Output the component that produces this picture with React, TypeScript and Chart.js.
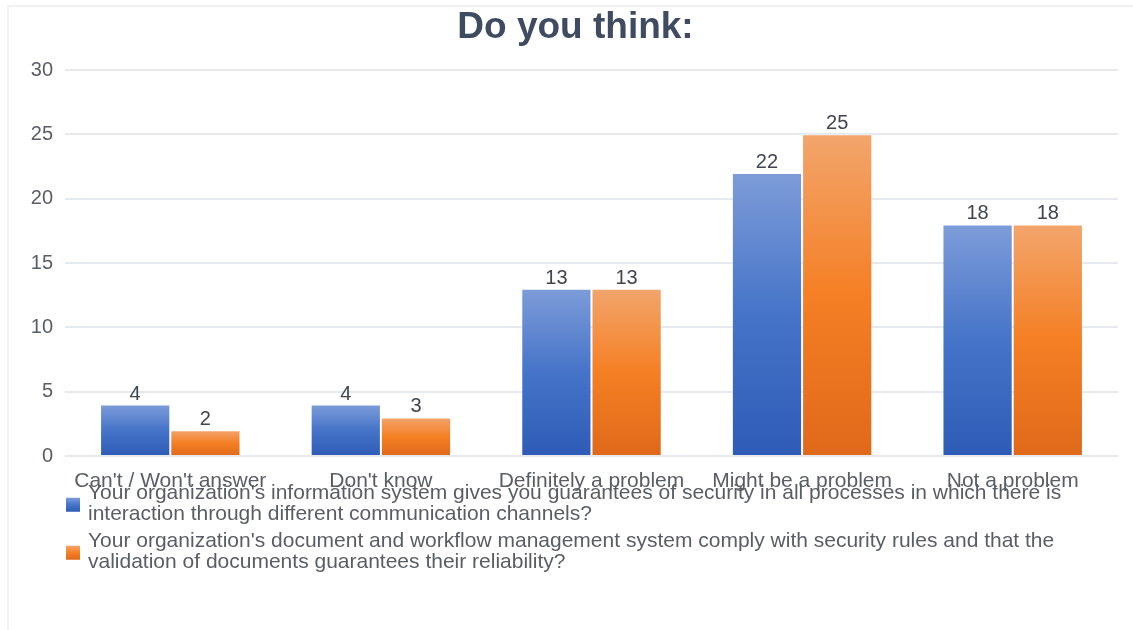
import React, { useEffect, useRef } from "react";
import { Chart, registerables } from "chart.js";

Chart.register(...registerables);

const TITLE = "Do you think:";
const categories = [
  "Can't / Won't answer",
  "Don't know",
  "Definitely a problem",
  "Might be a problem",
  "Not a problem",
];
const seriesInfoSystem = [4, 4, 13, 22, 18];
const seriesDocWorkflow = [2, 3, 13, 25, 18];
const legendInfoSystem = [
  "Your organization's information system gives you guarantees of security in all processes in which there is",
  "interaction through different communication channels?",
];
const legendDocWorkflow = [
  "Your organization's document and workflow management system comply with security rules and that the",
  "validation of documents guarantees their reliability?",
];
const yTicks = { min: 0, max: 30, step: 5 };

const FONT = "'Liberation Sans', Arial, sans-serif";
const BLUE_STOPS = ["#7d9cd8", "#4674c9", "#2e5bb6"];
const ORANGE_STOPS = ["#f2a56c", "#f57f24", "#df691a"];
const TEXT = "#595d66";

function gradientFor(stops: string[]) {
  return (ctx: any) => {
    const chart = ctx.chart;
    const y = chart.scales && chart.scales.y;
    if (!chart.chartArea || !y || ctx.raw == null) return stops[1];
    const top = y.getPixelForValue(ctx.raw);
    const base = y.getPixelForValue(0);
    if (!isFinite(top) || !isFinite(base) || base - top < 1) return stops[1];
    const g = chart.ctx.createLinearGradient(0, top, 0, base);
    g.addColorStop(0, stops[0]);
    g.addColorStop(0.5, stops[1]);
    g.addColorStop(1, stops[2]);
    return g;
  };
}

const titlePlugin = {
  id: "customTitle",
  afterDraw(chart: any) {
    const { ctx } = chart;
    ctx.save();
    ctx.font = `bold 37px ${FONT}`;
    ctx.fillStyle = "#3e4b60";
    ctx.textAlign = "center";
    ctx.textBaseline = "alphabetic";
    ctx.fillText(TITLE, 575.5, 38);
    ctx.restore();
  },
};

const valueLabelPlugin = {
  id: "valueLabels",
  afterDatasetsDraw(chart: any) {
    const { ctx } = chart;
    ctx.save();
    ctx.font = `20px ${FONT}`;
    ctx.fillStyle = "#404550";
    ctx.textAlign = "center";
    ctx.textBaseline = "alphabetic";
    chart.data.datasets.forEach((ds: any, di: number) => {
      const meta = chart.getDatasetMeta(di);
      meta.data.forEach((el: any, i: number) => {
        ctx.fillText(String(ds.data[i]), el.x, el.y - 5);
      });
    });
    ctx.restore();
  },
};

const legendPlugin = {
  id: "wrappedLegend",
  afterDraw(chart: any) {
    const { ctx, chartArea } = chart;
    const lineH = 21.5;
    let y = chartArea.bottom + 37;
    const x = chartArea.left + 1;
    ctx.save();
    ctx.font = `21px ${FONT}`;
    ctx.textBaseline = "middle";
    ctx.textAlign = "left";
    chart.data.datasets.forEach((ds: any) => {
      const lines: string[] = ds.legendLines;
      const mid = y + ((lines.length - 1) * lineH) / 2 + 1;
      const g = ctx.createLinearGradient(0, mid - 7, 0, mid + 7);
      g.addColorStop(0, ds.stops[0]);
      g.addColorStop(0.5, ds.stops[1]);
      g.addColorStop(1, ds.stops[2]);
      ctx.fillStyle = g;
      ctx.fillRect(x, mid - 7, 14, 14);
      ctx.fillStyle = TEXT;
      lines.forEach((ln, k) => ctx.fillText(ln, x + 22, y + k * lineH));
      y += lines.length * lineH + 5;
    });
    ctx.restore();
  },
};

export default function App() {
  const ref = useRef<HTMLCanvasElement | null>(null);
  useEffect(() => {
    if (!ref.current) return;
    const chart = new Chart(ref.current, {
      type: "bar",
      data: {
        labels: categories,
        datasets: [
          {
            label: legendInfoSystem.join(" "),
            data: seriesInfoSystem,
            backgroundColor: gradientFor(BLUE_STOPS),
            borderColor: "rgba(255,255,255,0.25)",
            borderWidth: 1,
            barPercentage: 1,
            categoryPercentage: 0.667,
            legendLines: legendInfoSystem,
            stops: BLUE_STOPS,
          } as any,
          {
            label: legendDocWorkflow.join(" "),
            data: seriesDocWorkflow,
            backgroundColor: gradientFor(ORANGE_STOPS),
            borderColor: "rgba(255,255,255,0.25)",
            borderWidth: 1,
            barPercentage: 1,
            categoryPercentage: 0.667,
            legendLines: legendDocWorkflow,
            stops: ORANGE_STOPS,
          } as any,
        ],
      },
      options: {
        animation: false,
        responsive: false,
        maintainAspectRatio: false,
        layout: { padding: { top: 70, left: 8, right: 15, bottom: 0 } },
        plugins: {
          legend: { display: false },
          title: { display: false },
          tooltip: { enabled: false },
        },
        scales: {
          x: {
            grid: { display: false },
            border: { display: false },
            ticks: {
              color: TEXT,
              font: { family: FONT, size: 21 },
              padding: 5,
              maxRotation: 0,
              autoSkip: false,
            },
            afterFit: (s: any) => {
              s.height = 174;
            },
          },
          y: {
            min: yTicks.min,
            max: yTicks.max,
            ticks: {
              stepSize: yTicks.step,
              color: TEXT,
              font: { family: FONT, size: 20 },
              padding: 12,
            },
            grid: { color: "#e6e9ee", lineWidth: 2, drawTicks: false },
            border: { display: false },
            afterFit: (s: any) => {
              s.width = 57;
            },
          },
        },
      },
      plugins: [titlePlugin, valueLabelPlugin, legendPlugin],
    });
    return () => chart.destroy();
  }, []);

  return (
    <div
      style={{
        position: "fixed",
        left: 0,
        top: 0,
        width: 1133,
        height: 630,
        background: "#fff",
        overflow: "hidden",
      }}
    >
      <div
        style={{
          position: "absolute",
          left: 7,
          top: 5,
          width: 1140,
          height: 640,
          borderLeft: "2px solid #f0f1f4",
          borderTop: "2px solid #f0f1f4",
        }}
      />
      <canvas
        ref={ref}
        width={1133}
        height={630}
        style={{ position: "absolute", left: 0, top: 0, width: 1133, height: 630 }}
      />
    </div>
  );
}
